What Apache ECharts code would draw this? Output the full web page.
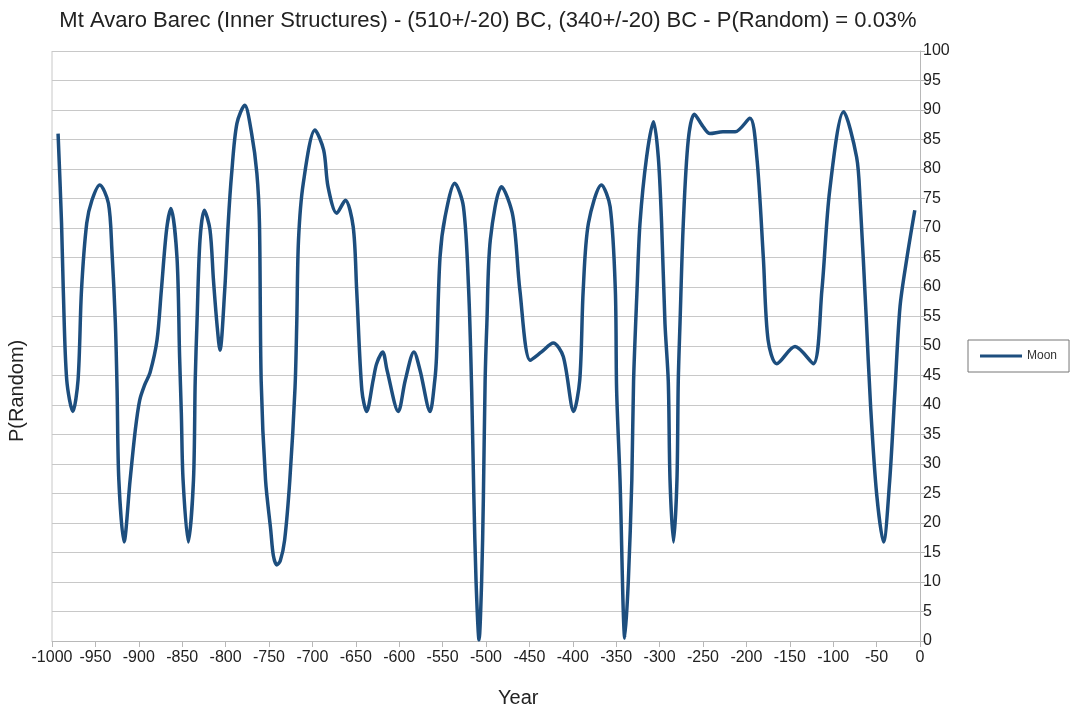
<!DOCTYPE html>
<html>
<head>
<meta charset="utf-8">
<script src="https://cdn.jsdelivr.net/npm/echarts@6/dist/echarts.min.js"></script>
<style>
html,body{margin:0;padding:0;background:#fff;}
#chart{width:1073px;height:716px;}
</style>
</head>
<body>
<div id="chart"></div>
<script>
const titleText = 'Mt Avaro Barec (Inner Structures) - (510+/-20) BC, (340+/-20) BC - P(Random) = 0.03%';
const seriesName = 'Moon';
const xAxisName = 'Year';
const yAxisName = 'P(Random)';
const years = [
  -993, -989, -987, -983, -976, -970, -966, -960, -954, -945,
  -935, -931, -927, -925, -923, -917, -910, -904, -899, -893,
  -887, -879, -874, -868, -863, -856, -853, -851, -849, -843,
  -837, -835, -833, -829.5, -824.5, -818, -814, -810, -806.5, -801,
  -797, -793, -787, -778, -770, -764, -761, -759, -754, -748,
  -745, -741, -737, -732, -726, -720, -718, -716, -710.5, -697, -687,
  -682, -672, -662, -653, -649, -643, -637.5, -630, -626, -619,
  -614, -601, -593, -583, -576, -564.5, -559, -557, -553, -547,
  -536, -526, -520, -516.5, -514, -511.5, -508, -505, -503, -501,
  -499, -495, -482, -469, -461, -449, -436, -422.5, -411, -399,
  -392, -388, -382, -367, -357, -351, -349.5, -345.6, -340, -336,
  -332, -330, -326, -322.6, -315, -307, -301.5, -297.7, -293.8, -290,
  -288, -284, -280, -278.5, -276.5, -272.7, -267, -260, -250, -242,
  -227, -213, -196, -188, -180.5, -175, -165, -144, -123, -113,
  -104, -88, -73, -69, -62, -57, -50, -42, -35, -29,
  -23, -15, -6
];
const moonValues = [
  86, 70.8, 59.5, 44.2, 38.9, 44.2, 59.5, 70.8, 74.7, 77.3,
  74.2, 66.3, 53.9, 42.5, 27.3, 16.8, 27.3, 35.8, 40.8, 43.5,
  45.5, 51, 59.5, 69.7, 73.3, 65, 48.2, 38.6, 27.3, 16.8,
  27.3, 44.2, 53.8, 68, 73, 69.7, 61.2, 53.8, 49.3, 59.5,
  70.8, 79.3, 87.7, 90.8, 86, 79.3, 70.8, 44, 27.3, 18.8,
  14.5, 12.9, 13.6, 17.1, 27.3, 43, 54, 68, 77.6, 86.6, 83.2,
  77, 72.5, 74.7, 70.2, 59.5, 42.5, 38.9, 44.2, 47, 49,
  45.9, 38.9, 44.2, 49, 45.9, 38.9, 44.2, 48.2, 65, 72,
  77.6, 73.6, 59.5, 42.5, 24.5, 10.3, 0.2, 10.3, 24.5, 44.2,
  53.8, 68, 77, 72, 59.5, 47.6, 49, 50.5, 48.2, 38.9,
  44.2, 59.5, 70.8, 77.3, 73.6, 59.5, 42.5, 27.3, 0.5, 10.3,
  27.3, 44, 59.5, 70.8, 82, 88, 82, 70.8, 53.8, 44,
  27.3, 16.8, 27.3, 44, 53.8, 70.8, 84.9, 89.3, 87.2, 86,
  86.3, 86.3, 88.6, 82, 65, 51, 47, 49.9, 47, 59.5,
  76.4, 89.7, 82, 74.7, 55, 40, 25, 16.8, 27, 42,
  56.7, 65, 73
];
const xMin = -1000, xMax = 0, xStep = 50;
const yMin = 0, yMax = 100, yStep = 5;

const chart = echarts.init(document.getElementById('chart'), null, {renderer: 'canvas'});
const FONT = '"Liberation Sans", Arial, sans-serif';
chart.setOption({
  animation: false,
  backgroundColor: '#ffffff',
  title: {
    text: titleText,
    left: 483, top: 5, textAlign: 'center',
    textStyle: {fontFamily: FONT, fontSize: 22, fontWeight: 'normal', color: '#222'}
  },
  legend: {
    data: [seriesName],
    left: 968, top: 340,
    orient: 'vertical',
    padding: [10, 12, 10, 12],
    borderColor: '#777', borderWidth: 1,
    itemWidth: 42, itemHeight: 3,
    itemGap: 0,
    icon: 'rect',
    textStyle: {fontFamily: FONT, fontSize: 12, color: '#333', padding: [0, 0, 0, 0]}
  },
  grid: {left: 52, right: 153, top: 51, bottom: 75, containLabel: false},
  xAxis: {
    type: 'value', min: xMin, max: xMax, interval: xStep,
    axisLine: {show: true, lineStyle: {color: '#b8b8b8', width: 1}},
    axisTick: {show: true, length: 6, lineStyle: {color: '#b8b8b8'}},
    axisLabel: {fontFamily: FONT, fontSize: 16, color: '#222', margin: 9,
      formatter: v => String(v)},
    splitLine: {show: false}
  },
  yAxis: {
    type: 'value', position: 'right', min: yMin, max: yMax, interval: yStep,
    axisLine: {show: true, lineStyle: {color: '#b8b8b8', width: 1}},
    axisTick: {show: true, length: 5, lineStyle: {color: '#b8b8b8'}},
    axisLabel: {fontFamily: FONT, fontSize: 16, color: '#222', margin: 3},
    splitLine: {show: true, lineStyle: {color: '#c8c8c8', width: 1}}
  },
  graphic: [
    {type: 'line', shape: {x1: 52, y1: 51, x2: 52, y2: 641}, style: {stroke: '#c8c8c8', lineWidth: 1}},
    {type: 'text', left: 498, top: 688, style: {text: xAxisName, font: '20px ' + FONT, fill: '#222'}},
    {type: 'text', x: 7, y: 442, rotation: Math.PI / 2, style: {text: yAxisName, font: '20px ' + FONT, fill: '#222'}}
  ],
  series: [{
    name: seriesName,
    type: 'line',
    data: years.map((y, i) => [y, moonValues[i]]),
    showSymbol: false,
    smooth: 0.3,
    lineStyle: {color: '#1d4e7e', width: 3.5},
    itemStyle: {color: '#1d4e7e'}
  }]
});
</script>
</body>
</html>
